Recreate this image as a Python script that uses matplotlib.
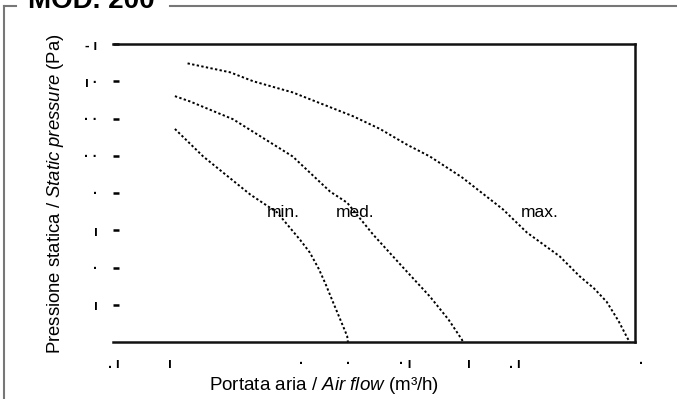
import matplotlib
matplotlib.use("Agg")
import matplotlib.pyplot as plt
from matplotlib.lines import Line2D
import matplotlib.transforms as mtransforms

plt.rcParams['font.family'] = ['Liberation Sans', 'DejaVu Sans']
plt.rcParams['mathtext.fontset'] = 'custom'
plt.rcParams['mathtext.rm'] = 'Liberation Sans'
plt.rcParams['mathtext.it'] = 'Liberation Sans:italic'

# curve data (portata m3/h, pressione Pa)
max_x = [100, 157, 188, 241, 322, 358, 394, 425, 468, 523, 555, 599, 626, 645, 662, 678, 690, 693]
max_y = [374, 362, 350, 335, 303, 286, 265, 249, 221, 178, 147, 115, 88, 72, 54, 28, 5, 0]
med_x = [83, 103, 161, 241, 291, 314, 349, 389, 425, 450, 468, 469]
med_y = [330, 323, 299, 249, 202, 187, 144, 100, 61, 30, 3, 0]
min_x = [83, 121, 184, 220, 251, 264, 276, 285, 294, 304, 314, 315]
min_y = [286, 249, 198, 174, 137, 120, 98, 78, 56, 32, 8, 0]

curve_labels = ["min.", "med.", "max."]
curve_label_x = [206, 299, 547]
curve_label_y = [174, 174, 174]

# scan-damaged tick labels
ytick_pos = [50, 100, 150, 200, 250, 300, 350, 400]
ytick_txt = ["ı", "·", "ı", "·", "· ·", "· ·", "ı ·", "- ı"]
xtick_pos = [1, 76, 252, 316, 392, 477, 539, 708]
xtick_txt = [". ı", "ı", "·", "·", "· ı", "ı", ". ı", "·"]

fig = plt.figure(figsize=(6.77, 3.99), dpi=100)
ax = fig.add_axes([113/677, 57/399, 522/677, 298/399])

for xs, ys in [(min_x, min_y), (med_x, med_y), (max_x, max_y)]:
    ax.plot(xs, ys, color='black', lw=1.4, ls=(0, (1.2, 1.2)))

for t, x, y in zip(curve_labels, curve_label_x, curve_label_y):
    ax.text(x, y, t, fontsize=12.5, ha='left', va='center')

ax.set_xlim(0, 700)
ax.set_ylim(0, 400)
ax.spines['left'].set_visible(False)
for s in ['top', 'right', 'bottom']:
    ax.spines[s].set_linewidth(1.8)
    ax.spines[s].set_color('#111111')

ax.set_yticks(ytick_pos)
ax.set_yticklabels(ytick_txt, fontsize=10, fontweight='bold')
ax.tick_params(axis='y', direction='in', length=4, width=1.8, pad=11)
ax.set_xticks([])

trans = mtransforms.blended_transform_factory(ax.transData, ax.transAxes)
for x, t in zip(xtick_pos, xtick_txt):
    ax.text(x, -0.075, t, transform=trans, fontsize=10, fontweight='bold',
            ha='center', va='center', clip_on=False)

fig.text(324/677, 1 - 385/399, "Portata aria / $\\mathit{Air\\ flow}$ (m³/h)",
         fontsize=13.5, ha='center', va='center')
fig.text(56/677, 1 - 194/399, "Pressione statica / $\\mathit{Static\\ pressure}$ (Pa)",
         fontsize=13.3, ha='center', va='center', rotation=90)

# outer frame with title
fc = '#777777'
fig.add_artist(Line2D([4/677, 4/677], [0, 1 - 6/399], color=fc, lw=1.5))
fig.add_artist(Line2D([4/677, 16/677], [1 - 6/399, 1 - 6/399], color=fc, lw=1.5))
fig.add_artist(Line2D([170/677, 1], [1 - 6/399, 1 - 6/399], color=fc, lw=1.5))
fig.text(28/677, 1 - 8/399, "MOD. 200", fontsize=20, fontweight='bold',
         ha='left', va='baseline')

fig.savefig("out.png", dpi=100)
